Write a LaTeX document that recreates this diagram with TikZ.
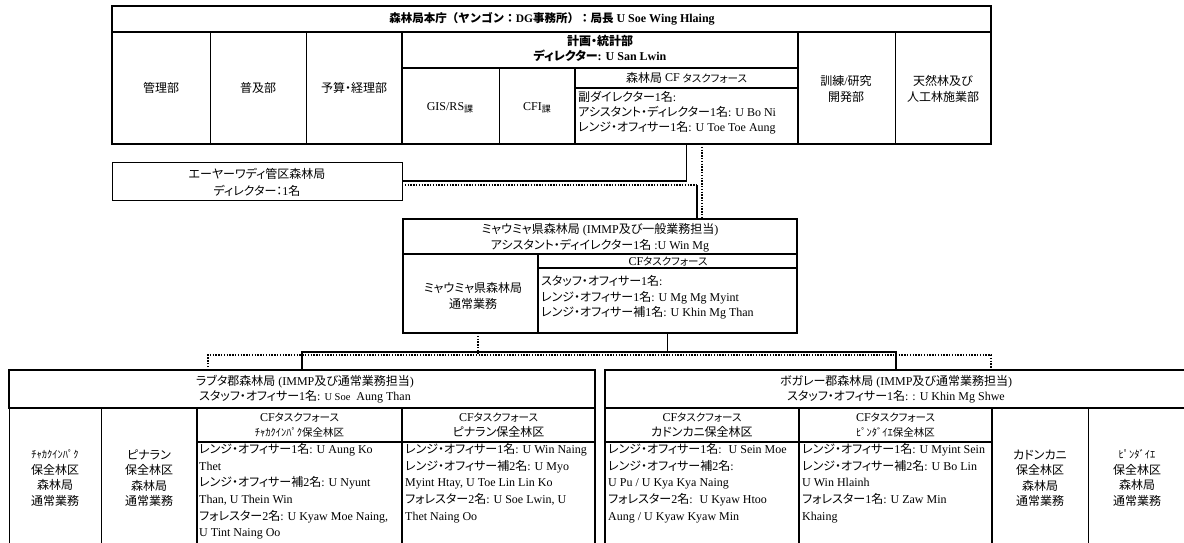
\documentclass[tikz,border=0pt]{standalone}
\usepackage{fontspec}
\setmainfont{Liberation Serif}
\newfontfamily\cjkf{Noto Sans CJK JP}[RawFeature=+palt]
\newfontfamily\cjkw{Noto Sans CJK JP}
\let\cjksel\cjkf
\XeTeXinterchartokenstate=1
\newXeTeXintercharclass\cjkcls
\newcount\cjkcnt
\def\setcjkrange#1#2{\cjkcnt=#1\relax\loop\XeTeXcharclass\cjkcnt=\cjkcls\advance\cjkcnt by 1\relax\ifnum\cjkcnt<#2\relax\repeat}
\setcjkrange{"3000}{"3100}
\setcjkrange{"4E00}{"A000}
\setcjkrange{"FF00}{"FFF0}
\XeTeXinterchartoks 0 \cjkcls = {\cjksel}
\XeTeXinterchartoks 4095 \cjkcls = {\cjksel}
\XeTeXinterchartoks \cjkcls 0 = {\rmfamily}
\XeTeXinterchartoks \cjkcls 4095 = {\rmfamily}
\XeTeXinterchartoks 4095 0 = {\rmfamily}
\newcommand\smk[1]{{\fontsize{10.5}{12}\selectfont #1}}
\begin{document}
\begin{tikzpicture}[x=1pt,y=-1pt,
  bx/.style={draw, line width=0.6pt, inner sep=0, outer sep=0, anchor=north west},
  bxm/.style={draw, line width=1.1pt, inner sep=0, outer sep=0, anchor=north west},
  bxk/.style={draw, line width=1.7pt, inner sep=0, outer sep=0, anchor=north west},
  txt/.style={inner sep=0, align=center, font=\fontsize{12}{15.5}\selectfont},
  lst/.style={inner sep=0, align=left, anchor=north west, font=\fontsize{12}{16.7}\selectfont},
  sc/.style={line width=1.8pt},
  dc/.style={line width=1.5pt, dash pattern=on 1.4pt off 1.4pt}]
\useasboundingbox (0,0) rectangle (1184,542);
\clip (0,0) rectangle (1184,542);
% ---------- HQ ----------
\node[bx, minimum width=98, minimum height=112] (c1) at (112,32) {};
\node[bx, minimum width=96, minimum height=112] (c2) at (210,32) {};
\node[bx, minimum width=96, minimum height=112] (c3) at (306,32) {};
\node[bx, minimum width=97, minimum height=112] (c5) at (798,32) {};
\node[bx, minimum width=96, minimum height=112] (c6) at (895,32) {};
\node[bx, minimum width=97, minimum height=76] (gis) at (402,68) {};
\node[bx, minimum width=76, minimum height=76] (cfi) at (499,68) {};
\node[bxm, minimum width=879, minimum height=138] (hq) at (112,6) {};
\node[bxk, minimum width=879, minimum height=26] (hqt) at (112,6) {};
\node[bxk, minimum width=396, minimum height=112] (plan) at (402,32) {};
\node[bxk, minimum width=396, minimum height=36] (plant) at (402,32) {};
\node[bxk, minimum width=223, minimum height=76] (cfhq) at (575,68) {};
\node[bxk, minimum width=223, minimum height=20] (cfhqh) at (575,68) {};
% ---------- Irrawaddy ----------
\node[bx, minimum width=290, minimum height=38] (irr) at (112,162) {};
% ---------- Myaungmya ----------
\node[bxm, minimum width=135, minimum height=79] (mygl) at (403,254) {};
\node[bxk, minimum width=394, minimum height=35] (mygt) at (403,219) {};
\node[bxk, minimum width=259, minimum height=79] (mygcf) at (538,254) {};
\node[bxk, minimum width=259, minimum height=14] (mygcfh) at (538,254) {};
% ---------- Labutta ----------
\node[bx, minimum width=92, minimum height=160] (l1) at (9,408) {};
\node[bx, minimum width=96, minimum height=160] (l2) at (101,408) {};
\node[bxk, minimum width=586, minimum height=38] (lab) at (9,370) {};
\node[bxk, minimum width=205, minimum height=160] (lcfa) at (197,408) {};
\node[bxk, minimum width=205, minimum height=34] (lcfah) at (197,408) {};
\node[bxk, minimum width=193, minimum height=160] (lcfb) at (402,408) {};
\node[bxk, minimum width=193, minimum height=34] (lcfbh) at (402,408) {};
% ---------- Bogale ----------
\node[bx, minimum width=96, minimum height=160] (b3) at (992,408) {};
\node[bx, minimum width=99, minimum height=160] (b4) at (1088,408) {};
\node[bxk, minimum width=582, minimum height=38] (bog) at (605,370) {};
\node[bxk, minimum width=194, minimum height=160] (bcfa) at (605,408) {};
\node[bxk, minimum width=194, minimum height=34] (bcfah) at (605,408) {};
\node[bxk, minimum width=193, minimum height=160] (bcfb) at (799,408) {};
\node[bxk, minimum width=193, minimum height=34] (bcfbh) at (799,408) {};
% ---------- connectors ----------
\coordinate (dA) at (702,0);
\coordinate (dB) at (697,185);
\coordinate (jS) at (0,352);
\coordinate (jD) at (0,355);
\coordinate (dL) at (208,0);
\coordinate (dR) at (991,0);
\coordinate (dM) at (478,0);
\draw[sc] (cfhq.south) |- (irr.east);
\draw[dc] (cfhq.south -| dA) -- (mygt.north -| dA);
\draw[dc] ([yshift=-4pt]irr.east) -- (dB);
\draw[sc] (dB) -- (mygt.north -| dB);
\draw[sc] (mygcf.south) -- (mygcf.south |- jS);
\draw[sc] (lab.north) |- (jS -| bog.north) -- (bog.north);
\draw[dc] (mygl.south -| dM) -- (jD -| dM);
\draw[dc] (lab.north -| dL) |- (jD -| dR) -- (bog.north -| dR);
% ---------- texts ----------
\node[txt, font=\fontsize{12}{15}\selectfont\bfseries] (thq) at (552,19) {{\let\cjksel\cjkw\fontsize{11.5}{12}\selectfont 森林局本庁（ヤンゴン：DG事務所）：局長} U Soe Wing Hlaing};
\node[txt] (tc1) at (161,88) {管理部};
\node[txt] (tc2) at (258,88) {普及部};
\node[txt] (tc3) at (354,88) {予算・経理部};
\node[txt, font=\fontsize{12}{15}\selectfont\bfseries] (tplan) at (600,48) {計画・統計部\\ディレクター: U San Lwin};
\node[txt] (tgis) at (450,108) {GIS/RS\raisebox{-2pt}{\fontsize{9}{9}\selectfont 課}};
\node[txt] (tcfi) at (537,108) {CFI\raisebox{-2pt}{\fontsize{9}{9}\selectfont 課}};
\node[txt] (tcfhqh) at (686.5,78) {森林局 \raisebox{1pt}{CF} \smk{タスクフォース}};
\node[lst, font=\fontsize{12}{15.3}\selectfont] (tcfhq) at (578,91) {副ダイレクター1名:\\アシスタント・ディレクター1名: U Bo Ni\\レンジ・オフィサー1名: U Toe Toe Aung};
\node[txt] (tc5) at (846,89) {訓練/研究\\開発部};
\node[txt] (tc6) at (943,89) {天然林及び\\人工林施業部};
\node[txt, font=\fontsize{12}{17}\selectfont] (tirr) at (257,182.5) {エーヤーワディ管区森林局\\ディレクター：1名};
\node[txt] (tmyg) at (600,237.5) {ミャウミャ県森林局 (IMMP及び一般業務担当)\\アシスタント・ディイレクター1名 :U Win Mg};
\node[txt, font=\fontsize{12}{16.5}\selectfont] (tmygl) at (473,296) {ミャウミャ県森林局\\通常業務};
\node[txt] (tmygh) at (668,261.5) {CF\smk{タスクフォース}};
\node[lst, font=\fontsize{12}{15.5}\selectfont] (tmygcf) at (541,275.5) {スタッフ・オフィサー1名:\\レンジ・オフィサー1名: U Mg Mg Myint\\レンジ・オフィサー補1名: U Khin Mg Than};
\node[txt] (tlab) at (305,389) {ラブタ郡森林局 (IMMP及び通常業務担当)\\スタッフ・オフィサー1名: {\fontsize{10.5}{12}\selectfont U Soe} \ Aung Than};
\node[txt] (tbog) at (896,389) {ボガレー郡森林局 (IMMP及び通常業務担当)\\スタッフ・オフィサー1名: : U Khin Mg Shwe};
\node[txt] (tl1) at (55,478) {\smk{ﾁｬｶｸｲﾝﾊﾟｸ}\\保全林区\\森林局\\通常業務};
\node[txt] (tl2) at (149,478) {ピナラン\\保全林区\\森林局\\通常業務};
\node[txt] (tlah) at (299.5,425) {CF\smk{タスクフォース}\\\smk{ﾁｬｶｸｲﾝﾊﾟｸ保全林区}};
\node[txt] (tlbh) at (498.5,425) {CF\smk{タスクフォース}\\ピナラン保全林区};
\node[txt] (tbah) at (702,425) {CF\smk{タスクフォース}\\カドンカニ保全林区};
\node[txt] (tbbh) at (895.5,425) {CF\smk{タスクフォース}\\\smk{ﾋﾟﾝﾀﾞｲｴ保全林区}};
\node[lst] (tla) at (199,443) {レンジ・オフィサー1名: U Aung Ko\\Thet\\レンジ・オフィサー補2名: U Nyunt\\Than, U Thein Win\\フォレスター2名: U Kyaw Moe Naing,\\U Tint Naing Oo};
\node[lst] (tlb) at (405,443) {レンジ・オフィサー1名: U Win Naing\\レンジ・オフィサー補2名: U Myo\\Myint Htay, U Toe Lin Lin Ko\\フォレスター2名: U Soe Lwin, U\\Thet Naing Oo};
\node[lst] (tba) at (608,443) {レンジ・オフィサー1名: \ U Sein Moe\\レンジ・オフィサー補2名:\\U Pu / U Kya Kya Naing\\フォレスター2名: \ U Kyaw Htoo\\Aung / U Kyaw Kyaw Min};
\node[lst] (tbb) at (802,443) {レンジ・オフィサー1名: U Myint Sein\\レンジ・オフィサー補2名: U Bo Lin\\U Win Hlainh\\フォレスター1名: U Zaw Min\\Khaing};
\node[txt] (tb3) at (1040,478) {カドンカニ\\保全林区\\森林局\\通常業務};
\node[txt] (tb4) at (1137,478) {\smk{ﾋﾟﾝﾀﾞｲｴ}\\保全林区\\森林局\\通常業務};
\end{tikzpicture}
\end{document}
